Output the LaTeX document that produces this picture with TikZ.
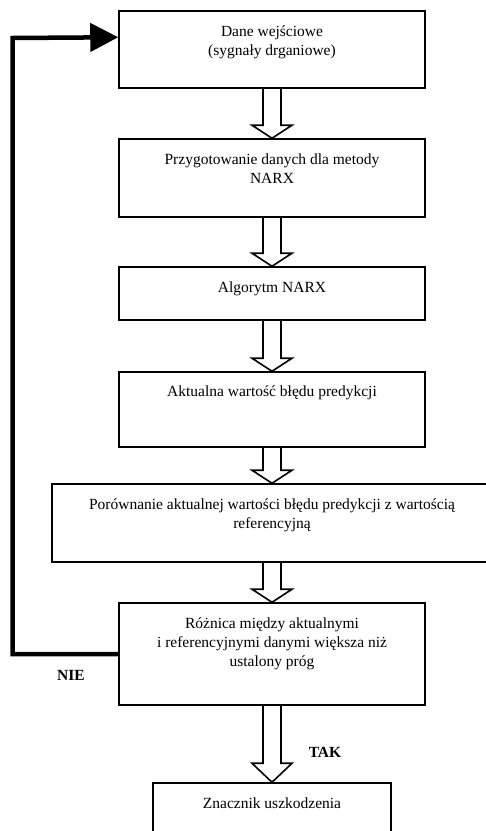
\documentclass[tikz,border=0pt]{standalone}
\usepackage{fontspec}
\setmainfont{Liberation Serif}
\usetikzlibrary{arrows.meta,calc}
\newcommand\blockarrow[3]{%
  \draw[blk] ($(#1.south)+(-9,0)$) -- ($(#2.north)+(-9,-#3)$) -- ($(#2.north)+(-20,-#3)$)
    -- (#2.north) -- ($(#2.north)+(20,-#3)$) -- ($(#2.north)+(9,-#3)$) -- ($(#1.south)+(9,0)$);}
\begin{document}
\begin{tikzpicture}[x=1pt,y=-1pt,
  box/.style={draw,line width=1.5pt,minimum width=306pt,inner sep=0pt},
  txt/.style={anchor=north,align=center,inner sep=0pt,font=\fontsize{15.5}{19}\selectfont},
  blk/.style={draw,line width=1.6pt,line join=miter},
  fback/.style={line width=4.5pt,line join=miter,-{Triangle[length=28pt,width=28pt]}},
  lab/.style={font=\fontsize{15.5}{19}\selectfont\bfseries}]
\useasboundingbox (0,0) rectangle (486,831);
\node[box,minimum height=77pt] (b1) at (272,49.5) {};
\node[box,minimum height=78pt] (b2) at (272,178) {};
\node[box,minimum height=53pt] (b3) at (272,293.5) {};
\node[box,minimum height=75pt] (b4) at (272,409.5) {};
\node[box,minimum width=440pt,minimum height=78pt] (b5) at (272,523) {};
\node[box,minimum height=102pt] (b6) at (272,654) {};
\node[box,minimum width=238pt,minimum height=87pt] (b7) at (272,826.5) {};
\node[txt] (t1) at ($(b1.north)+(0,13)$) {\strut Dane wejściowe\\(sygnały drganiowe)};
\node[txt] (t2) at ($(b2.north)+(0,13)$) {\strut Przygotowanie danych dla metody\\NARX};
\node[txt] (t3) at ($(b3.north)+(0,13)$) {\strut Algorytm NARX};
\node[txt] (t4) at ($(b4.north)+(0,12)$) {\strut Aktualna wartość błędu predykcji};
\node[txt] (t5) at ($(b5.north)+(0,13)$) {\strut Porównanie aktualnej wartości błędu predykcji z wartością\\referencyjną};
\node[txt] (t6) at ($(b6.north)+(0,13)$) {\strut Różnica między aktualnymi\\i referencyjnymi danymi większa niż\\ustalony próg};
\node[txt] (t7) at ($(b7.north)+(0,13)$) {\strut Znacznik uszkodzenia};
\blockarrow{b1}{b2}{13}
\blockarrow{b2}{b3}{13}
\blockarrow{b3}{b4}{13}
\blockarrow{b4}{b5}{13}
\blockarrow{b5}{b6}{13}
\blockarrow{b6}{b7}{19}
\coordinate (c1) at (12.5,654);
\coordinate (c2) at (12.5,38);
\coordinate (tp) at ($(b1.north west)+(0,27)$);
\draw[fback] (b6.west) -- (c1) -- (c2) -- (tp);
\node[lab] (nie) at (71,675) {NIE};
\node[lab] (tak) at (325,752) {TAK};
\end{tikzpicture}
\end{document}
